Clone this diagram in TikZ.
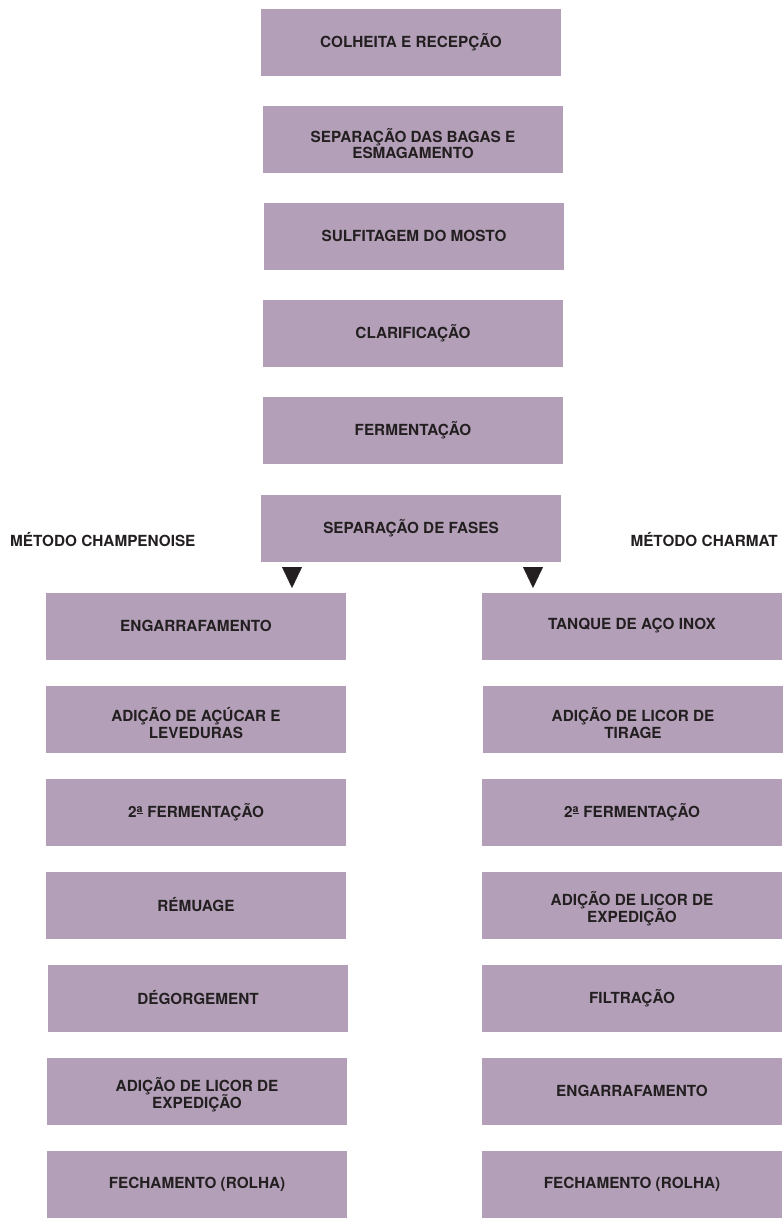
\documentclass[tikz,border=0pt]{standalone}
\usepackage{fontspec}
\setmainfont{TeX Gyre Heros}
\usetikzlibrary{arrows.meta}
\definecolor{boxfill}{HTML}{B3A0B8}
\definecolor{ink}{HTML}{231F20}
\newcommand\mytightlines{\lineskiplimit=-16000pt\relax}
\begin{document}
\begin{tikzpicture}[x=1pt,y=-1pt,
  boxtext/.style={inner sep=0pt, align=center, text=ink,
    font=\fontsize{15.3}{16.6}\selectfont\bfseries\mytightlines},
  stepbox/.style={boxtext, fill=boxfill, draw=none, minimum width=300pt, minimum height=67pt},
  twobox/.style={stepbox, label={[boxtext, yshift=-4pt]center:#1}},
  sidelabel/.style={text=ink, inner sep=0pt, font=\fontsize{15.3}{16.8}\selectfont\bfseries},
  headarrow/.style={draw=ink, fill=ink, -{Triangle[width=20pt,length=21pt]}}]
\useasboundingbox (0,0) rectangle (782,1221);
% central column
\node[stepbox] (c1) at (411,42.5) {COLHEITA E RECEPÇÃO};
\node[twobox={SEPARAÇÃO DAS BAGAS E\\ESMAGAMENTO}] (c2) at (413,139.5) {};
\node[stepbox] (c3) at (414,236) {SULFITAGEM DO MOSTO};
\node[stepbox] (c4) at (413,333) {CLARIFICAÇÃO};
\node[stepbox] (c5) at (413,430.5) {FERMENTAÇÃO};
\node[stepbox] (c6) at (411,528) {SEPARAÇÃO DE FASES};
% labels
\node[sidelabel, anchor=west] (lm) at (10,540) {MÉTODO CHAMPENOISE};
\node[sidelabel, anchor=east] (rm) at (778,540) {MÉTODO CHARMAT};
% arrow heads
\coordinate (la1) at (292,567);
\coordinate (la2) at (292,588);
\coordinate (ra1) at (533,567);
\coordinate (ra2) at (533,588);
\draw[headarrow] (la1) -- (la2);
\draw[headarrow] (ra1) -- (ra2);
% left column
\node[stepbox] (l1) at (196,626) {ENGARRAFAMENTO};
\node[twobox={ADIÇÃO DE AÇÚCAR E\\LEVEDURAS}] (l2) at (196,719) {};
\node[stepbox] (l3) at (196,812) {2\textsuperscript{\underline{a}} FERMENTAÇÃO};
\node[stepbox] (l4) at (196,905) {RÉMUAGE};
\node[stepbox] (l5) at (198,998) {DÉGORGEMENT};
\node[twobox={ADIÇÃO DE LICOR DE\\EXPEDIÇÃO}] (l6) at (197,1091) {};
\node[stepbox] (l7) at (197,1184) {FECHAMENTO (ROLHA)};
% right column
\node[stepbox] (r1) at (632,626) {TANQUE DE AÇO INOX};
\node[twobox={ADIÇÃO DE LICOR DE\\TIRAGE}] (r2) at (633,719) {};
\node[stepbox] (r3) at (632,812) {2\textsuperscript{\underline{a}} FERMENTAÇÃO};
\node[twobox={ADIÇÃO DE LICOR DE\\EXPEDIÇÃO}] (r4) at (632,905) {};
\node[stepbox] (r5) at (632,998) {FILTRAÇÃO};
\node[stepbox] (r6) at (632,1091) {ENGARRAFAMENTO};
\node[stepbox] (r7) at (632,1184) {FECHAMENTO (ROLHA)};
\end{tikzpicture}
\end{document}
